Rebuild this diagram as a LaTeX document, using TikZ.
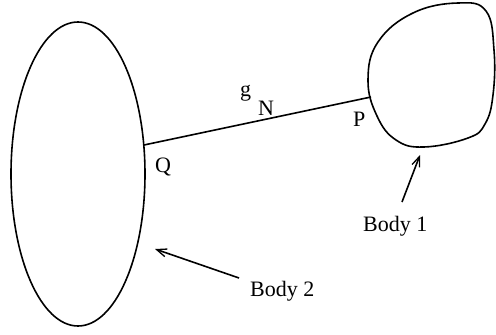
\documentclass[tikz,border=0pt]{standalone}
\usepackage{fontspec}
\setmainfont{Liberation Serif}
\usetikzlibrary{arrows.meta}
\tikzset{
  body/.style={line width=1.6pt},
  lbl/.style={inner sep=0pt, anchor=base west, font=\fontsize{22}{26}\selectfont},
  pointer/.style={line width=1.6pt, -{Straight Barb[length=10pt,width=8pt,line width=1.3pt]}},
}
\begin{document}
\begin{tikzpicture}[x=1pt,y=-1pt]
\useasboundingbox (0,0) rectangle (496,335);
% Body 2
\draw[body] (78,174) ellipse [x radius=67, y radius=152];
% Body 1
\draw[body] plot[smooth cycle, tension=0.7] coordinates {
  (368,80) (378,42) (413,13) (458,3) (486,11) (494,50) (493,95)
  (485,124) (468,138) (424,147) (396,140) (377,116)};
% contact points
\coordinate (q) at (144,145);
\coordinate (p) at (371,97);
\draw[body] (q) -- (p);
% labels
\node[lbl] (g) at (240,96.5) {g};
\node[lbl] (n) at (258,115) {N};
\node[lbl] (P) at (353,126) {P};
\node[lbl] (Q) at (155,172) {Q};
\node[lbl] (b1) at (363,231) {Body 1};
\node[lbl] (b2) at (250,296) {Body 2};
% pointers
\coordinate (t1) at (402,202);
\coordinate (h1) at (420,155);
\coordinate (t2) at (239,278);
\coordinate (h2) at (155,249);
\draw[pointer] (t1) -- (h1);
\draw[pointer] (t2) -- (h2);
\end{tikzpicture}
\end{document}
